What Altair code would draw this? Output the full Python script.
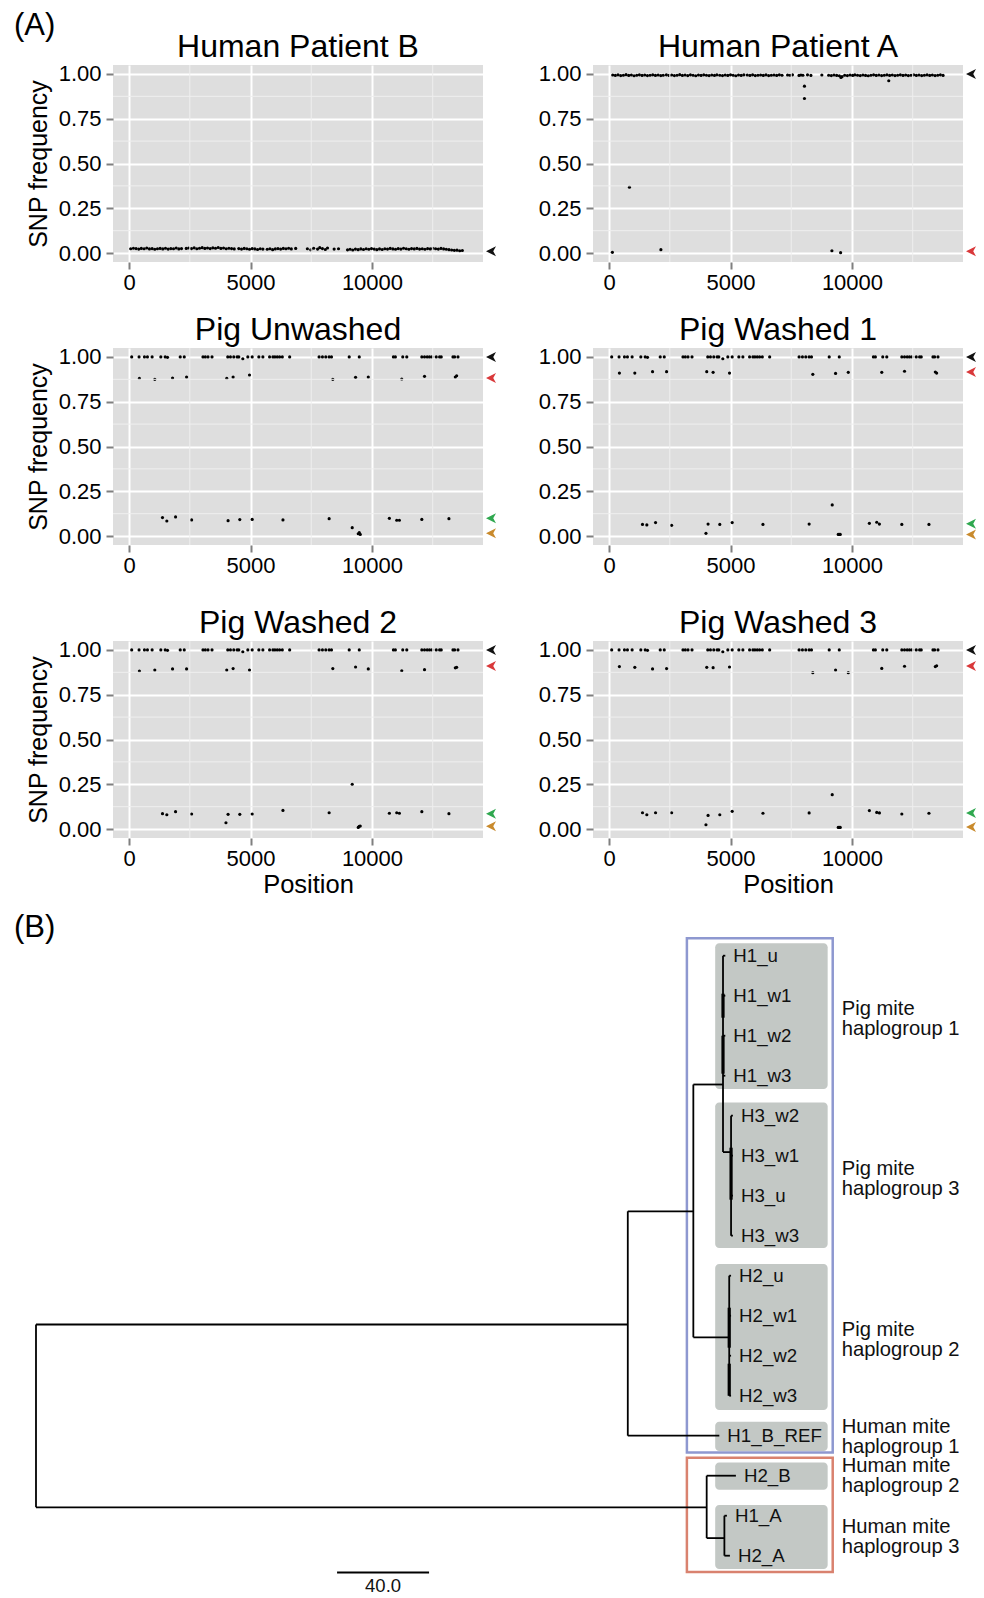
import altair as alt
import pandas as pd

FONT = "Liberation Sans"

# ---------------- (A) SNP frequency data ----------------
SAMPLES = ["Human Patient B", "Human Patient A", "Pig Unwashed",
           "Pig Washed 1", "Pig Washed 2", "Pig Washed 3"]

B_BAND_POS = [69, 180, 290, 400, 505, 620, 730, 840, 950, 1060, 1170, 1280, 1390, 1500, 1610, 1720, 1830, 1940, 2050, 2160,
              2355, 2460, 2570, 2680, 2790, 2900, 3010, 3120, 3230, 3340, 3450, 3560, 3670, 3780, 3890, 4000, 4110, 4220, 4330,
              4518, 4630, 4740, 4850, 4960, 5070, 5180, 5290, 5400, 5510,
              5689, 5800, 5910, 6020, 6130, 6240, 6350, 6460, 6570, 6680,
              6860, 7342, 7480, 7600, 7760, 7850, 7960, 8080, 8170, 8443, 8623,
              8994, 9100, 9210, 9320, 9430, 9540, 9650, 9760, 9870, 9980, 10090, 10200, 10310, 10420, 10530, 10640,
              10750, 10860, 10970, 11080, 11190, 11300, 11410, 11520, 11630, 11740, 11850, 11960, 12070, 12180,
              12290, 12400, 12510, 12620, 12730, 12840, 12950, 13060, 13170, 13280, 13390, 13500, 13610, 13720]
B_BAND_FREQ = [0.024, 0.027, 0.025, 0.022, 0.026, 0.024, 0.028, 0.023, 0.025, 0.021, 0.024, 0.026, 0.023, 0.027, 0.022, 0.025, 0.024, 0.028, 0.023, 0.025,
               0.026, 0.028, 0.025, 0.029, 0.024, 0.027, 0.030, 0.026, 0.028, 0.025, 0.029, 0.027, 0.031, 0.026, 0.028, 0.024, 0.027, 0.025, 0.023,
               0.025, 0.022, 0.026, 0.024, 0.021, 0.025, 0.023, 0.020, 0.024, 0.022,
               0.021, 0.024, 0.019, 0.023, 0.025, 0.022, 0.026, 0.024, 0.027, 0.023,
               0.026, 0.024, 0.018, 0.027, 0.022, 0.030, 0.025, 0.020, 0.028, 0.022, 0.024,
               0.018, 0.021, 0.017, 0.022, 0.019, 0.023, 0.020, 0.024, 0.021, 0.025, 0.022, 0.019, 0.023, 0.020, 0.024, 0.022,
               0.026, 0.023, 0.021, 0.025, 0.022, 0.027, 0.024, 0.021, 0.025, 0.023, 0.026, 0.022, 0.024, 0.021,
               0.025, 0.023, 0.027, 0.024, 0.022, 0.026, 0.023, 0.021, 0.019, 0.017, 0.015, 0.016, 0.013, 0.014]

A_BAND_POS = [152, 260, 370, 480, 590, 700, 810, 920, 1030, 1140, 1250, 1360, 1470, 1580, 1690, 1800, 1910, 2020, 2130, 2230,
              2360, 2470, 2580, 2690, 2800, 2910, 3020, 3130, 3240, 3350, 3460, 3570, 3680, 3790, 3900, 4010, 4120, 4230, 4340, 4440,
              4560, 4670, 4780, 4890, 5000, 5110, 5220, 5330, 5440, 5550,
              5690, 5800, 5910, 6020, 6130, 6240, 6350, 6460, 6570, 6680, 6790, 6900, 7010, 7120,
              7350, 7450, 7550, 7820, 7900, 7980, 8170, 8310, 8760,
              9040, 9150, 9260, 9370, 9480, 9590, 9700, 9810, 9920, 10030, 10120, 10230, 10340, 10450, 10560, 10670,
              10780, 10890, 11000, 11110, 11220, 11330, 11440, 11550, 11660, 11770, 11880, 11990, 12100, 12210,
              12320, 12430, 12540, 12650, 12760, 12870, 12980, 13090, 13200, 13310, 13420, 13530, 13640, 13750]
A_BAND_FREQ = [0.994, 0.992, 0.995, 0.991, 0.993, 0.996, 0.992, 0.994, 0.990, 0.993, 0.995, 0.992, 0.994, 0.991, 0.993, 0.995, 0.992, 0.994, 0.991, 0.993,
               0.995, 0.992, 0.994, 0.991, 0.993, 0.996, 0.992, 0.994, 0.991, 0.995, 0.993, 0.990, 0.994, 0.992, 0.995, 0.993, 0.991, 0.994, 0.992, 0.995,
               0.993, 0.991, 0.994, 0.992, 0.995, 0.993, 0.990, 0.994, 0.992, 0.995,
               0.994, 0.992, 0.995, 0.991, 0.993, 0.994, 0.992, 0.995, 0.991, 0.993, 0.994, 0.992, 0.995, 0.993,
               0.994, 0.993, 0.995, 0.992, 0.994, 0.993, 0.995, 0.992, 0.994,
               0.993, 0.991, 0.994, 0.992, 0.990, 0.985, 0.993, 0.991, 0.994, 0.992, 0.995, 0.993, 0.991, 0.994, 0.992, 0.990,
               0.993, 0.995, 0.992, 0.994, 0.991, 0.993, 0.995, 0.992, 0.994, 0.991, 0.993, 0.995, 0.992, 0.994,
               0.991, 0.993, 0.995, 0.992, 0.994, 0.991, 0.993, 0.995, 0.992, 0.994, 0.991, 0.993, 0.995, 0.992]
A_OUT_POS = [138, 840, 2135, 8044, 8044, 9174, 9532, 9545, 11515]
A_OUT_FREQ = [0.004, 0.368, 0.019, 0.932, 0.863, 0.013, 0.002, 0.980, 0.962]

PIG_TOP_POS = [110, 413, 634, 758, 950, 1309, 1488, 1584, 2107, 2273, 3044, 3140, 3251, 3416, 4063, 4174, 4311, 4449,
               4518, 4683, 4890, 5069, 5344, 5510, 5785, 5923, 6006, 6102, 6198, 6309, 6612, 7824, 7961, 8099, 8237,
               8333, 9063, 9477, 10882, 10964, 11267, 11433, 12052, 12163, 12273, 12369, 12466, 12645, 12782, 12851,
               13333, 13402, 13540]
PIG_TOP_FREQ = [1.0, 1.0, 1.0, 1.0, 1.0, 1.0, 1.0, 0.998, 1.0, 1.0, 1.0, 1.0, 1.0, 1.0, 1.0, 1.0, 1.0, 1.0,
                1.0, 0.99, 1.0, 1.0, 1.0, 1.0, 1.0, 1.0, 1.0, 1.0, 1.0, 1.0, 1.0, 1.0, 1.0, 1.0, 1.0,
                1.0, 1.0, 1.0, 1.0, 1.0, 1.0, 1.0, 1.0, 1.0, 1.0, 1.0, 1.0, 1.0, 1.0, 1.0,
                1.0, 1.0, 1.0]

PIG_MID_POS = [427, 1061, 1791, 2369, 4022, 4284, 4959, 8388, 9325, 9848, 11226, 12163, 13430, 13485]
MID_U = [0.880, 0.875, 0.882, 0.888, 0.880, 0.888, 0.899, 0.875, 0.886, 0.888, 0.877, 0.892, 0.888, 0.895]
MID_W1 = [0.910, 0.910, 0.918, 0.918, 0.918, 0.914, 0.910, 0.903, 0.908, 0.914, 0.914, 0.920, 0.916, 0.910]
MID_W2 = [0.882, 0.888, 0.894, 0.894, 0.888, 0.896, 0.888, 0.896, 0.905, 0.894, 0.884, 0.890, 0.900, 0.903]
MID_W3 = [0.907, 0.903, 0.894, 0.896, 0.903, 0.901, 0.905, 0.873, 0.888, 0.873, 0.897, 0.909, 0.907, 0.912]

PIG_LOW_POS = [1377, 1556, 1915, 2576, 3990, 4077, 4559, 5069, 6336, 8237, 9187, 9435, 9477, 9518, 10716, 11019, 11129, 12052, 13168]
LOW_U = [0.103, 0.084, 0.107, 0.090, None, 0.086, 0.092, 0.093, 0.090, 0.097, 0.047, 0.013, 0.019, 0.009, 0.099, 0.088, 0.088, 0.093, 0.097]
LOW_W1 = [0.065, 0.062, 0.075, 0.060, 0.015, 0.067, 0.065, 0.075, 0.065, 0.067, 0.174, 0.009, 0.009, 0.009, 0.071, 0.077, 0.067, 0.065, 0.065]
LOW_W2 = [0.086, 0.080, 0.097, 0.084, 0.035, 0.082, 0.082, 0.084, 0.104, 0.091, 0.250, 0.009, 0.015, 0.017, 0.088, 0.091, 0.088, 0.097, 0.086]
LOW_W3 = [0.091, 0.080, 0.091, 0.091, 0.024, 0.076, 0.080, 0.099, 0.088, 0.090, 0.192, 0.009, 0.009, 0.009, 0.103, 0.093, 0.090, 0.084, 0.088]

ARROW_SAMPLE = ["Human Patient B",
                "Human Patient A", "Human Patient A",
                "Pig Unwashed", "Pig Unwashed", "Pig Unwashed", "Pig Unwashed",
                "Pig Washed 1", "Pig Washed 1", "Pig Washed 1", "Pig Washed 1",
                "Pig Washed 2", "Pig Washed 2", "Pig Washed 2", "Pig Washed 2",
                "Pig Washed 3", "Pig Washed 3", "Pig Washed 3", "Pig Washed 3"]
ARROW_FREQ = [0.01,
              1.0, 0.01,
              1.0, 0.882, 0.099, 0.015,
              1.0, 0.916, 0.069, 0.009,
              1.0, 0.910, 0.086, 0.015,
              1.0, 0.910, 0.090, 0.011]
ARROW_COLOR = ["#111111",
               "#111111", "#d9383a",
               "#111111", "#d9383a", "#2fa84f", "#c98a2c",
               "#111111", "#d9383a", "#2fa84f", "#c98a2c",
               "#111111", "#d9383a", "#2fa84f", "#c98a2c",
               "#111111", "#d9383a", "#2fa84f", "#c98a2c"]

MINOR_X = [2500, 7500, 12500]
MINOR_Y = [0.125, 0.375, 0.625, 0.875]

rows = []
for p, f in zip(B_BAND_POS, B_BAND_FREQ):
    rows.append(("Human Patient B", p, f))
for p, f in zip(A_BAND_POS, A_BAND_FREQ):
    rows.append(("Human Patient A", p, f))
for p, f in zip(A_OUT_POS, A_OUT_FREQ):
    rows.append(("Human Patient A", p, f))
for s, mid, low in [("Pig Unwashed", MID_U, LOW_U), ("Pig Washed 1", MID_W1, LOW_W1),
                    ("Pig Washed 2", MID_W2, LOW_W2), ("Pig Washed 3", MID_W3, LOW_W3)]:
    for p, f in zip(PIG_TOP_POS, PIG_TOP_FREQ):
        rows.append((s, p, f))
    for p, f in zip(PIG_MID_POS, mid):
        rows.append((s, p, f))
    for p, f in zip(PIG_LOW_POS, low):
        if f is not None:
            rows.append((s, p, f))
snp = pd.DataFrame(rows, columns=["sample", "pos", "freq"])
arrows = pd.DataFrame({"sample": ARROW_SAMPLE, "freq": ARROW_FREQ, "color": ARROW_COLOR})

PW, PH = 370, 197
XSCALE = alt.Scale(domain=[-660, 14570], nice=False, zero=False)
YSCALE = alt.Scale(domain=[-0.05, 1.05], nice=False, zero=False)
ARROW = "M1,-1 L-1,0 L1,1 L0.45,0 Z"
PANEL_BG = "#DEDEDE"


def axis_x(title):
    kw = dict(values=[0, 5000, 10000], format="d", grid=True, gridColor="white", gridWidth=2,
              domain=False, ticks=True, tickColor="#7f7f7f", tickWidth=2, tickSize=7,
              labels=True, labelFontSize=22, labelColor="black", labelFont=FONT, labelPadding=3,
              labelFlush=False)
    if title:
        kw.update(title=title, titleFontSize=25.5, titleFont=FONT, titleFontWeight="normal",
                  titleColor="black", titlePadding=3, titleX=PW / 2 + 10)
    else:
        kw.update(title=None)
    return alt.Axis(**kw)


def axis_y(title):
    kw = dict(values=[0, 0.25, 0.5, 0.75, 1.0], format=".2f", grid=True, gridColor="white", gridWidth=2,
              domain=False, ticks=True, tickColor="#7f7f7f", tickWidth=2, tickSize=7,
              labels=True, labelFontSize=22, labelColor="black", labelFont=FONT, labelPadding=5,
              labelFlush=False)
    if title:
        kw.update(title=title, titleFontSize=25, titleFont=FONT, titleFontWeight="normal",
                  titleColor="black", titlePadding=7)
    else:
        kw.update(title=None)
    return alt.Axis(**kw)


def panel(sample, left, bottom):
    pts = alt.Chart(snp).transform_filter(alt.datum.sample == sample).mark_circle(
        size=10, color="black", opacity=1).encode(
        x=alt.X("pos:Q", scale=XSCALE, axis=axis_x("Position" if bottom else None)),
        y=alt.Y("freq:Q", scale=YSCALE, axis=axis_y("SNP frequency" if left else None)))
    minor_x = alt.Chart(pd.DataFrame({"pos": MINOR_X})).mark_rule(color="#EFEFEF", strokeWidth=1).encode(
        x=alt.X("pos:Q", scale=XSCALE))
    minor_y = alt.Chart(pd.DataFrame({"freq": MINOR_Y})).mark_rule(color="#EFEFEF", strokeWidth=1).encode(
        y=alt.Y("freq:Q", scale=YSCALE))
    arr = alt.Chart(arrows).transform_filter(alt.datum.sample == sample).mark_point(
        shape=ARROW, filled=True, size=100, opacity=1, strokeWidth=0).encode(
        x=alt.value(PW + 8),
        y=alt.Y("freq:Q", scale=YSCALE),
        color=alt.Color("color:N", scale=None))
    return alt.layer(pts, minor_x, minor_y, arr).properties(
        width=PW, height=PH,
        title=alt.TitleParams(text=sample, fontSize=32, font=FONT, fontWeight="normal", color="black",
                              anchor="middle", frame="group", baseline="alphabetic", offset=-26),
        view=alt.ViewBackground(fill=PANEL_BG, stroke=None))


HS = 42
row1 = alt.hconcat(panel(SAMPLES[0], True, False), panel(SAMPLES[1], False, False), spacing=HS)
row2 = alt.hconcat(panel(SAMPLES[2], True, False), panel(SAMPLES[3], False, False), spacing=HS)
row3 = alt.hconcat(panel(SAMPLES[4], True, True), panel(SAMPLES[5], False, True), spacing=HS)
a_block = alt.vconcat(alt.vconcat(row1, row2, spacing=20), row3, spacing=30)

# ---------------- (B) tree data (x: distance units, root = 0; y: leaf rows) ----------------
LEAF_NAMES = ["H1_u", "H1_w1", "H1_w2", "H1_w3", "H3_w2", "H3_w1", "H3_u", "H3_w3",
              "H2_u", "H2_w1", "H2_w2", "H2_w3", "H1_B_REF", "H2_B", "H1_A", "H2_A"]
LEAF_ROW = [0, 1, 2, 3, 4, 5, 6, 7, 8, 9, 10, 11, 12, 13, 14, 15]
LEAF_TIP = [299.7, 299.7, 299.7, 299.7, 303.0, 303.0, 303.0, 303.0,
            302.2, 302.2, 302.2, 302.2, 297.1, 304.3, 300.4, 301.7]

# branches: x1, y1, x2, y2
BR_X1 = [0, 0, 257.3, 257.3, 257.3, 285.8, 285.8, 298.7, 298.7, 298.7, 298.7, 298.7, 298.7, 302.2,
         302.2, 302.2, 302.2, 302.2, 285.8, 301.4, 301.4, 301.4, 301.4, 301.4,
         0, 291.6, 291.6, 291.6, 299.3, 299.3, 299.3]
BR_Y1 = [9.22, 9.22, 6.39, 12.0, 6.39, 3.22, 3.22, 0, 0, 1, 2, 3, 4.91, 4.0,
         4, 5, 6, 7, 9.54, 8.0, 8, 9, 10, 11,
         13.79, 13.0, 13.0, 14.56, 14.0, 14.0, 15.0]
BR_X2 = [0, 257.3, 257.3, 297.1, 285.8, 285.8, 298.7, 298.7, 299.7, 299.7, 299.7, 299.7, 302.2, 302.2,
         303.0, 303.0, 303.0, 303.0, 301.4, 301.4, 302.2, 302.2, 302.2, 302.2,
         291.6, 291.6, 304.3, 299.3, 299.3, 300.4, 301.7]
BR_Y2 = [13.79, 9.22, 12.0, 12.0, 6.39, 9.54, 3.22, 4.91, 0, 1, 2, 3, 4.91, 7.0,
         4, 5, 6, 7, 9.54, 11.0, 8, 9, 10, 11,
         13.79, 14.56, 13.0, 14.56, 15.0, 14.0, 15.0]
THICK_X = [298.7, 298.7, 302.2, 301.4, 301.4]
THICK_Y1 = [0.95, 2.0, 4.8, 8.8, 10.2]
THICK_Y2 = [1.55, 2.95, 6.1, 9.8, 11.0]

BOX_X1 = [295.3, 295.3, 295.3, 295.3, 295.3, 295.3]
BOX_X2 = [344.2, 344.2, 344.2, 344.2, 344.2, 344.2]
BOX_Y1 = [-0.31, 3.67, 7.71, 11.65, 12.67, 13.73]
BOX_Y2 = [3.33, 7.31, 11.36, 12.38, 13.35, 15.33]

CLADE_X1 = [283.0, 283.0]
CLADE_X2 = [346.4, 346.4]
CLADE_Y1 = [-0.435, 12.55]
CLADE_Y2 = [12.42, 15.41]
CLADE_COLOR = ["#8e98d0", "#d9826f"]

GROUP_TEXT = ["Pig mite\nhaplogroup 1", "Pig mite\nhaplogroup 3", "Pig mite\nhaplogroup 2",
              "Human mite\nhaplogroup 1", "Human mite\nhaplogroup 2", "Human mite\nhaplogroup 3"]
GROUP_Y = [1.32, 5.32, 9.35, 11.77, 12.75, 14.27]   # row of the first text line
GROUP_X = [350.3, 350.3, 350.3, 350.3, 350.3, 350.3]

SCALE_X = [130.9]
SCALE_X2 = [170.9]
SCALE_Y = [15.42]
SCALE_LABEL = ["40.0"]
SCALE_LABEL_Y = [15.75]

PANEL_B_LABEL = ["(B)"]
PANEL_B_X = [-9.6]
PANEL_B_Y = [-0.69]

TW, TH = 849, 685
TX = alt.Scale(domain=[33.48, 402.61], nice=False, zero=False)
TY = alt.Scale(domain=[-1.4175, 15.7075], reverse=True, nice=False, zero=False)

leaves = pd.DataFrame({"name": LEAF_NAMES, "row": LEAF_ROW, "tip": LEAF_TIP})
branches = pd.DataFrame({"x1": BR_X1, "y1": BR_Y1, "x2": BR_X2, "y2": BR_Y2})
thick = pd.DataFrame({"x": THICK_X, "y1": THICK_Y1, "y2": THICK_Y2})
boxes = pd.DataFrame({"x1": BOX_X1, "x2": BOX_X2, "y1": BOX_Y1, "y2": BOX_Y2})
clades = pd.DataFrame({"x1": CLADE_X1, "x2": CLADE_X2, "y1": CLADE_Y1, "y2": CLADE_Y2, "color": CLADE_COLOR})
groups = pd.DataFrame({"text": GROUP_TEXT, "x": GROUP_X, "y": GROUP_Y})
scalebar = pd.DataFrame({"x": SCALE_X, "x2": SCALE_X2, "y": SCALE_Y, "label": SCALE_LABEL, "ly": SCALE_LABEL_Y})
blabel = pd.DataFrame({"t": PANEL_B_LABEL, "x": PANEL_B_X, "y": PANEL_B_Y})

box_layer = alt.Chart(boxes).mark_rect(cornerRadius=4, color="#C3C8C5").encode(
    x=alt.X("x1:Q", scale=TX, axis=None), x2="x2:Q",
    y=alt.Y("y1:Q", scale=TY, axis=None), y2="y2:Q")
clade_layer = alt.Chart(clades).mark_rect(fillOpacity=0, strokeWidth=2.5).encode(
    x=alt.X("x1:Q", scale=TX, axis=None), x2="x2:Q",
    y=alt.Y("y1:Q", scale=TY, axis=None), y2="y2:Q",
    stroke=alt.Color("color:N", scale=None))
branch_layer = alt.Chart(branches).mark_rule(color="black", strokeWidth=1.8).encode(
    x=alt.X("x1:Q", scale=TX, axis=None), x2="x2:Q",
    y=alt.Y("y1:Q", scale=TY, axis=None), y2="y2:Q")
thick_layer = alt.Chart(thick).mark_rule(color="black", strokeWidth=3.2).encode(
    x=alt.X("x:Q", scale=TX, axis=None),
    y=alt.Y("y1:Q", scale=TY, axis=None), y2="y2:Q")
leaf_layer = alt.Chart(leaves).mark_text(align="left", baseline="middle", dx=8, fontSize=18.7,
                                         font=FONT, color="#111111").encode(
    x=alt.X("tip:Q", scale=TX, axis=None),
    y=alt.Y("row:Q", scale=TY, axis=None), text="name:N")
group_layer = alt.Chart(groups).mark_text(align="left", baseline="middle", fontSize=20.2, font=FONT,
                                          lineBreak="\n", lineHeight=20, color="#111111").encode(
    x=alt.X("x:Q", scale=TX, axis=None),
    y=alt.Y("y:Q", scale=TY, axis=None), text="text:N")
bar_layer = alt.Chart(scalebar).mark_rule(color="black", strokeWidth=2).encode(
    x=alt.X("x:Q", scale=TX, axis=None), x2="x2:Q",
    y=alt.Y("y:Q", scale=TY, axis=None))
bar_text = alt.Chart(scalebar).transform_calculate(xm="(datum.x + datum.x2) / 2").mark_text(
    align="center", baseline="middle", fontSize=18.5, font=FONT, color="#111111").encode(
    x=alt.X("xm:Q", scale=TX, axis=None),
    y=alt.Y("ly:Q", scale=TY, axis=None), text="label:N")
b_layer = alt.Chart(blabel).mark_text(align="left", baseline="middle", fontSize=31, font=FONT,
                                      color="black").encode(
    x=alt.X("x:Q", scale=TX, axis=None),
    y=alt.Y("y:Q", scale=TY, axis=None), text="t:N")

tree = alt.layer(box_layer, clade_layer, branch_layer, thick_layer, leaf_layer, group_layer,
                 bar_layer, bar_text, b_layer).properties(
    width=TW, height=TH, view=alt.ViewBackground(fill="white", stroke=None))

chart = alt.vconcat(a_block, tree, spacing=1).properties(
    title=alt.TitleParams(text="(A)", anchor="start", fontSize=31, font=FONT, fontWeight="normal",
                          color="black", offset=-11),
    padding={"left": 5, "right": 0, "top": 1, "bottom": 0},
).configure(font=FONT).configure_view(stroke=None)

chart.save("out.html", embed_options={"renderer": "svg", "actions": False})
